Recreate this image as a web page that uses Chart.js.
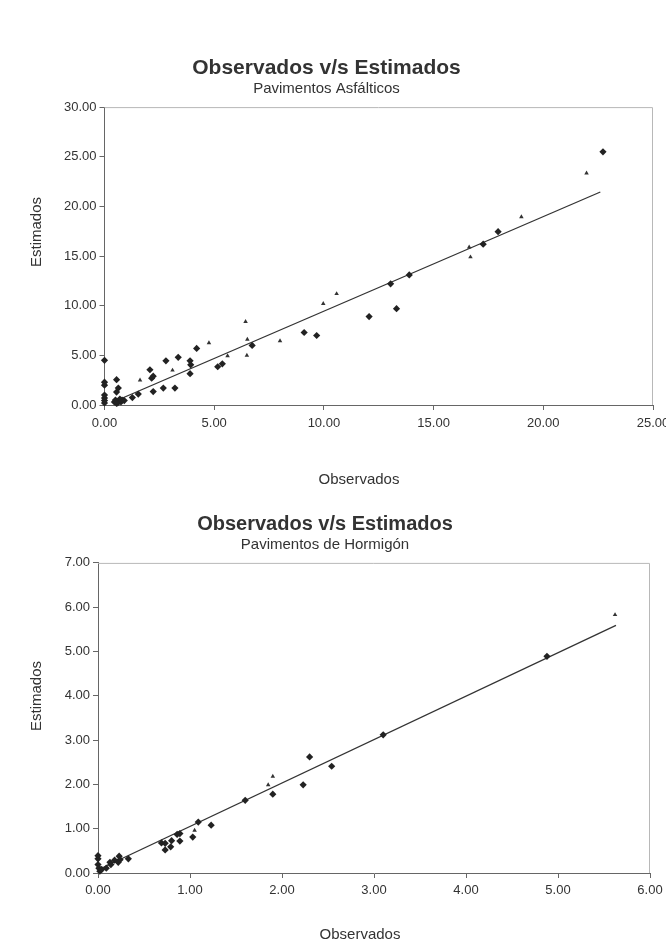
<!DOCTYPE html>
<html>
<head>
<meta charset="utf-8">
<script src="https://cdn.jsdelivr.net/npm/chart.js@4.4.0/dist/chart.umd.min.js"></script>
<style>
  body { margin:0; background:#fff; width:666px; height:943px; position:relative; overflow:hidden; font-family:"Liberation Sans", Arial, sans-serif; }
  canvas { position:absolute; left:0; }
  .axt { position:absolute; color:#333; font-size:15px; white-space:nowrap; transform:translate(-50%,-50%); }
  .axt.v { transform:translate(-50%,-50%) rotate(-90deg); }
</style>
</head>
<body>
<canvas id="asf" width="666" height="490" style="top:0"></canvas>
<canvas id="hor" width="666" height="453" style="top:490px"></canvas>
<div class="axt" style="left:359px;top:478px">Observados</div>
<div class="axt v" style="left:35px;top:232px">Estimados</div>
<div class="axt" style="left:360px;top:933px">Observados</div>
<div class="axt v" style="left:35px;top:696px">Estimados</div>
<script>
// Pavimentos Asfálticos - diamonds
const asfDiamondX = [0, 0, 0, 0, 0, 0, 0, 0.55, 0.55, 0.63, 0.45, 0.5, 0.6, 0.65, 0.7, 0.75, 0.8, 0.55, 0.9,
  1.27, 1.54, 2.07, 2.15, 2.22, 2.22, 2.68, 2.8, 3.21, 3.36, 3.9, 3.93, 3.9, 4.2, 5.16, 5.37, 6.73,
  9.1, 9.67, 12.06, 13.04, 13.31, 13.89, 17.26, 17.94, 22.72];
const asfDiamondY = [4.5, 2.3, 2.0, 1.0, 0.7, 0.45, 0.2, 2.55, 1.3, 1.7, 0.3, 0.5, 0.2, 0.4, 0.6, 0.3, 0.5, 0.15, 0.45,
  0.75, 1.1, 3.55, 2.7, 2.9, 1.35, 1.7, 4.45, 1.7, 4.8, 4.45, 4.05, 3.15, 5.7, 3.85, 4.15, 6.0,
  7.3, 7.0, 8.9, 12.2, 9.7, 13.1, 16.2, 17.45, 25.5];
// Pavimentos Asfálticos - triangles
const asfTriX = [1.62, 3.1, 4.76, 5.61, 6.43, 6.51, 6.49, 8.0, 9.97, 10.58, 16.62, 16.68, 19.0, 21.97];
const asfTriY = [2.5, 3.5, 6.25, 4.95, 8.4, 6.6, 5.0, 6.45, 10.2, 11.2, 15.9, 14.9, 18.95, 23.35];
const asfLineX = [0.45, 22.6];
const asfLineY = [0.35, 21.45];

// Pavimentos de Hormigón - diamonds
const horDiamondX = [0, 0, 0, 0.01, 0.02, 0.04, 0.09, 0.13, 0.14, 0.18, 0.22, 0.23, 0.24, 0.33,
  0.69, 0.73, 0.73, 0.80, 0.79, 0.86, 0.89, 0.89, 1.03, 1.09, 1.23, 1.60, 1.90, 2.23, 2.30, 2.54, 3.10, 4.88];
const horDiamondY = [0.39, 0.32, 0.19, 0.11, 0.04, 0.08, 0.11, 0.24, 0.19, 0.29, 0.24, 0.38, 0.30, 0.32,
  0.68, 0.67, 0.52, 0.73, 0.59, 0.87, 0.89, 0.72, 0.81, 1.15, 1.08, 1.64, 1.78, 1.99, 2.62, 2.41, 3.12, 4.89];
const horTriX = [1.05, 1.85, 1.90, 5.62];
const horTriY = [0.96, 1.99, 2.18, 5.83];
const horLineX = [0.02, 5.63];
const horLineY = [0.09, 5.59];

Chart.defaults.font.family = "'Liberation Sans', Arial, sans-serif";
Chart.defaults.color = '#333';

const pts = (xs, ys) => xs.map((x, i) => ({x: x, y: ys[i]}));

const plotFrame = {
  id: 'plotFrame',
  beforeDatasetsDraw(chart) {
    const {ctx, chartArea: a} = chart;
    ctx.save();
    ctx.strokeStyle = '#b8b8b8';
    ctx.lineWidth = 1;
    ctx.beginPath();
    ctx.moveTo(a.left, a.top + 0.5);
    ctx.lineTo(a.right - 0.5, a.top + 0.5);
    ctx.lineTo(a.right - 0.5, a.bottom);
    ctx.stroke();
    ctx.restore();
  }
};

function makeChart(id, cfg) {
  const fmt = v => v.toFixed(2);
  new Chart(document.getElementById(id), {
    type: 'scatter',
    data: {
      datasets: [
        {data: pts(cfg.dx, cfg.dy), pointStyle: 'rectRot', pointRadius: 3.6, backgroundColor: '#222', borderColor: '#222', borderWidth: 0, clip: false},
        {data: pts(cfg.tx, cfg.ty), pointStyle: 'triangle', pointRadius: 2.6, backgroundColor: '#333', borderColor: '#333', borderWidth: 0, clip: false},
        {type: 'line', data: pts(cfg.lx, cfg.ly), borderColor: '#333', borderWidth: 1.3, pointRadius: 0, fill: false}
      ]
    },
    options: {
      responsive: false,
      animation: false,
      events: [],
      layout: {padding: {left: 0, right: cfg.right, top: 0, bottom: 0}},
      plugins: {
        legend: {display: false},
        tooltip: {enabled: false},
        title: {display: true, text: 'Observados v/s Estimados', color: '#333',
          font: {size: cfg.titleSize, weight: 'bold', lineHeight: 1.1}, padding: {top: cfg.titleTop, bottom: 0}},
        subtitle: {display: true, text: cfg.sub, color: '#333',
          font: {size: 15}, padding: {top: 0, bottom: cfg.subBottom}}
      },
      scales: {
        x: {
          type: 'linear', min: 0, max: cfg.xMax,
          ticks: {stepSize: cfg.xStep, callback: fmt, color: '#333', font: {size: 13}, padding: cfg.xPad, autoSkip: false, maxRotation: 0},
          grid: {drawOnChartArea: false, tickLength: 5, color: '#666'},
          border: {color: '#666'},
          afterFit(s) { s.height = cfg.bottomH; s.paddingLeft = 0; s.paddingRight = 0; }
        },
        y: {
          type: 'linear', min: 0, max: cfg.yMax,
          ticks: {stepSize: cfg.yStep, callback: fmt, color: '#333', font: {size: 13}, padding: 3, autoSkip: false},
          grid: {drawOnChartArea: false, tickLength: 5, color: '#666'},
          border: {color: '#666'},
          afterFit(s) { s.width = cfg.leftW; s.paddingTop = 0; s.paddingBottom = 0; }
        }
      }
    },
    plugins: [plotFrame]
  });
}

makeChart('asf', {
  dx: asfDiamondX, dy: asfDiamondY, tx: asfTriX, ty: asfTriY, lx: asfLineX, ly: asfLineY,
  sub: 'Pavimentos Asfálticos', xMax: 25, xStep: 5, yMax: 30, yStep: 5,
  right: 13, leftW: 104.5, bottomH: 85, titleSize: 21, titleTop: 57, subBottom: 9, xPad: 6
});
makeChart('hor', {
  dx: horDiamondX, dy: horDiamondY, tx: horTriX, ty: horTriY, lx: horLineX, ly: horLineY,
  sub: 'Pavimentos de Hormigón', xMax: 6, xStep: 1, yMax: 7, yStep: 1,
  right: 16, leftW: 98, bottomH: 70, titleSize: 20, titleTop: 23.5, subBottom: 9.4, xPad: 5
});
</script>
</body>
</html>
